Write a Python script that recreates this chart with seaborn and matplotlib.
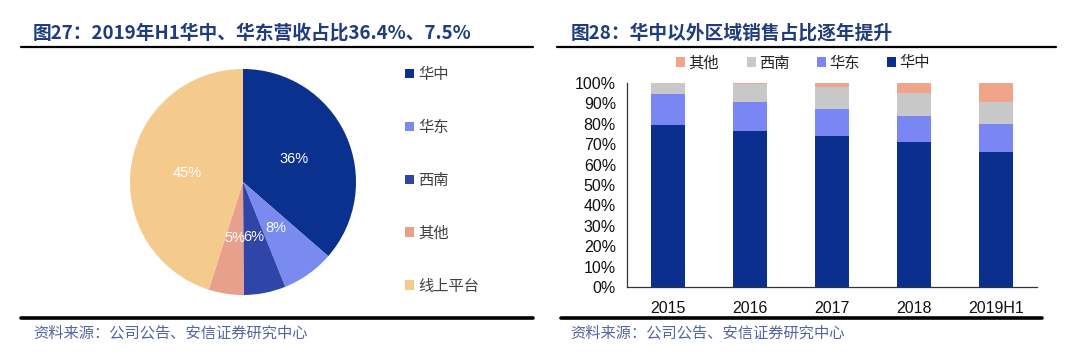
import matplotlib
matplotlib.use("Agg")
import matplotlib.pyplot as plt
from matplotlib.lines import Line2D
from matplotlib.patches import Patch
import seaborn as sns
import pandas as pd
import numpy as np

# ---------------- data ----------------
pie_labels = ["华中", "华东", "西南", "其他", "线上平台"]
pie_values = [36.4, 7.5, 6.0, 5.0, 45.1]
pie_colors = ["#0B318E", "#7A8BF0", "#2F45A8", "#E6A08C", "#F4CA8D"]

years = ["2015", "2016", "2017", "2018", "2019H1"]
central = [79.5, 76.4, 73.9, 71.0, 66.3]   # 华中
east = [15.1, 14.1, 13.3, 12.9, 13.7]      # 华东
southwest = [5.4, 9.0, 11.0, 11.0, 10.9]   # 西南
other = [0.0, 0.5, 1.8, 5.1, 9.1]          # 其他
bar_colors = {"华中": "#0B2F8E", "华东": "#7B86F5", "西南": "#C8C8C8", "其他": "#F0A58A"}

title_left = "图27：2019年H1华中、华东营收占比36.4%、7.5%"
title_right = "图28：华中以外区域销售占比逐年提升"
source = "资料来源：公司公告、安信证券研究中心"

# ---------------- style ----------------
sns.set_theme(style="white")
plt.rcParams["font.family"] = ["Liberation Sans", "Noto Sans CJK SC", "DejaVu Sans"]
plt.rcParams["axes.unicode_minus"] = False

W, H = 1080, 359
fig = plt.figure(figsize=(W / 100, H / 100), dpi=100)
fig.patch.set_facecolor("white")

def fx(x):
    return x / W

def fy(y):
    return 1 - y / H

title_color = "#1F3C7C"
# titles
fig.text(fx(33), fy(33), title_left, fontsize=13.5, fontweight="bold", color=title_color,
         family=["Noto Sans CJK SC", "DejaVu Sans"], ha="left", va="center")
fig.text(fx(571), fy(33), title_right, fontsize=13.5, fontweight="bold", color=title_color,
         family=["Noto Sans CJK SC", "DejaVu Sans"], ha="left", va="center")
# rules
fig.add_artist(Line2D([fx(21), fx(533)], [fy(47), fy(47)], color="black", lw=1.6))
fig.add_artist(Line2D([fx(557), fx(1056)], [fy(47), fy(47)], color="black", lw=1.6))
fig.add_artist(Line2D([fx(21), fx(533)], [fy(318), fy(318)], color="black", lw=2.6))
fig.add_artist(Line2D([fx(561), fx(1042)], [fy(318), fy(318)], color="black", lw=2.6))
# source
src_color = "#5565A0"
fig.text(fx(33), fy(333), source, fontsize=11, color=src_color, style="italic",
         family=["Noto Sans CJK SC"], ha="left", va="center")
fig.text(fx(570), fy(333), source, fontsize=11, color=src_color, style="italic",
         family=["Noto Sans CJK SC"], ha="left", va="center")

# ---------------- pie ----------------
cx, cy, r = 243, 182, 113
ax1 = fig.add_axes([fx(cx - r), fy(cy + r), fx(2 * r), (2 * r) / H])
total = sum(pie_values)
wedges, _ = ax1.pie(pie_values, colors=pie_colors, startangle=90, counterclock=False,
                    radius=1.0, wedgeprops=dict(linewidth=0))
for w, v in zip(wedges, pie_values):
    ang = np.deg2rad((w.theta1 + w.theta2) / 2)
    d = 0.5
    ax1.text(d * np.cos(ang), d * np.sin(ang), f"{round(v / total * 100):d}%",
             ha="center", va="center", color="white", fontsize=10.5)
ax1.set_xlim(-1, 1)
ax1.set_ylim(-1, 1)
ax1.set_aspect("equal")
ax1.axis("off")

handles = [Patch(facecolor=c, edgecolor="none") for c in pie_colors]
fig.legend(handles, pie_labels, loc="upper left", bbox_to_anchor=(fx(405), fy(66)),
           frameon=False, labelspacing=2.35, handlelength=0.6, handleheight=0.6,
           handletextpad=0.25, borderaxespad=0, borderpad=0,
           prop={"family": ["Noto Sans CJK SC"], "size": 11}, labelcolor="#404040")

# ---------------- stacked bars ----------------
ax_top, ax_bot = 83, 287
ax2 = fig.add_axes([fx(627), fy(ax_bot), fx(1037 - 627), (ax_bot - ax_top) / H])
df = pd.DataFrame({"year": years, "华中": central, "华东": east, "西南": southwest, "其他": other})
df["c1"] = df["华中"]
df["c2"] = df["c1"] + df["华东"]
df["c3"] = df["c2"] + df["西南"]
df["c4"] = df["c3"] + df["其他"]
for col, name in [("c4", "其他"), ("c3", "西南"), ("c2", "华东"), ("c1", "华中")]:
    sns.barplot(data=df, x="year", y=col, color=bar_colors[name], width=0.42,
                saturation=1, ax=ax2, linewidth=0)
ax2.set_ylim(0, 100)
ax2.set_xlim(-0.5, len(years) - 0.5)
ax2.set_yticks(range(0, 101, 10))
ax2.set_yticklabels([f"{v}%" for v in range(0, 101, 10)])
ax2.set_xlabel("")
ax2.set_ylabel("")
for s in ["top", "right"]:
    ax2.spines[s].set_visible(False)
for s in ["left", "bottom"]:
    ax2.spines[s].set_color("#333333")
    ax2.spines[s].set_linewidth(0.9)
ax2.set_xticks(np.arange(-0.5, len(years), 1.0), minor=True)
ax2.tick_params(axis="x", which="major", length=0, labelsize=11.5, pad=10)
ax2.tick_params(axis="x", which="minor", length=5, width=0.9, direction="out", color="#333333")
ax2.tick_params(axis="y", which="major", length=4, width=0.9, direction="out",
                color="#333333", labelsize=11.5, pad=4)
for t in ax2.get_yticklabels() + ax2.get_xticklabels():
    t.set_color("#111111")
ax2.grid(False)

leg_names = ["其他", "西南", "华东", "华中"]
leg_handles = [Patch(facecolor=bar_colors[n], edgecolor="none") for n in leg_names]
fig.legend(leg_handles, leg_names, loc="center", bbox_to_anchor=(fx(803), fy(63)), ncol=4,
           frameon=False, handlelength=0.6, handleheight=0.6, handletextpad=0.2,
           columnspacing=1.8, borderpad=0, prop={"family": ["Noto Sans CJK SC"], "size": 11},
           labelcolor="#222222")

fig.savefig("out.png", dpi=100, facecolor="white")
